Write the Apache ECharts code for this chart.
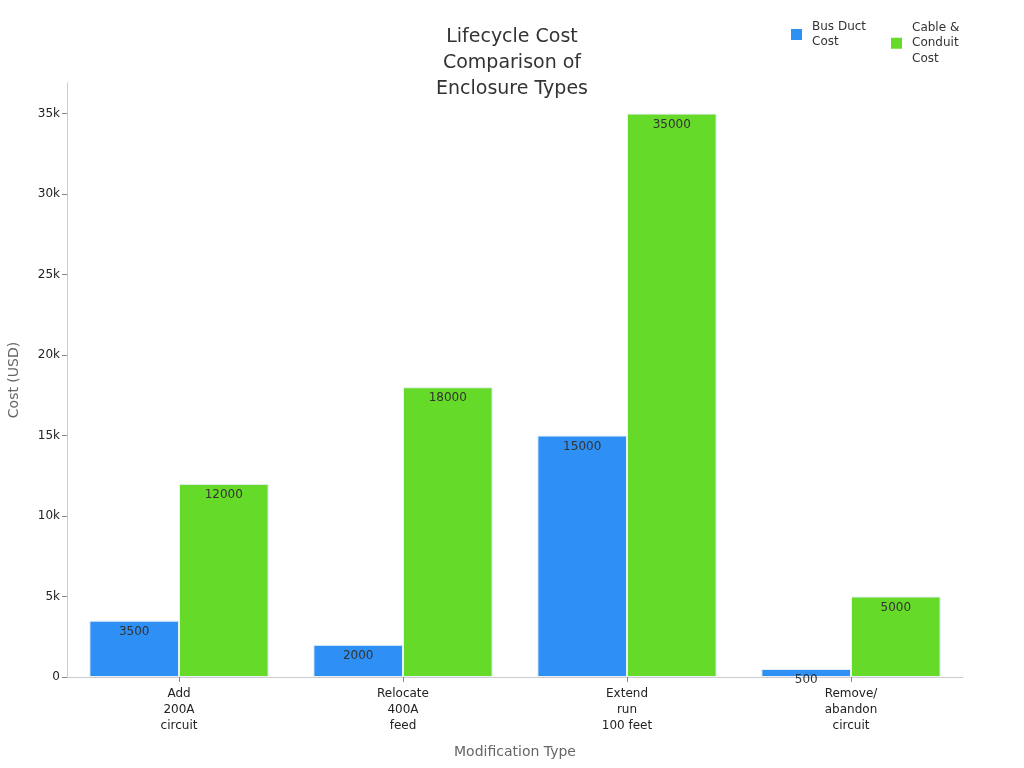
<!DOCTYPE html>
<html>
<head>
<meta charset="utf-8">
<script src="https://cdn.jsdelivr.net/npm/echarts@6/dist/echarts.min.js"></script>
<style>
html,body{margin:0;padding:0;background:#fff;}
#chart{width:1024px;height:768px;}
</style>
</head>
<body>
<div id="chart"></div>
<script>
var categories = ['Add\n200A\ncircuit', 'Relocate\n400A\nfeed', 'Extend\nrun\n100 feet', 'Remove/\nabandon\ncircuit'];
var seriesNames = ['Bus Duct\nCost', 'Cable &\nConduit\nCost'];
var busDuct = [3500, 2000, 15000, 500];
var cableConduit = [12000, 18000, 35000, 5000];
var yTicks = [0, 5000, 10000, 15000, 20000, 25000, 30000, 35000];

var chart = echarts.init(document.getElementById('chart'));

var barLabel = {
	show: true,
	position: 'insideTop',
	distance: 5,
	color: '#333',
	fontSize: 12,
	fontFamily: 'DejaVu Sans'
};

// 两个图例分开放, 各自顶端对齐
function makeLegend(name, left, top){
	return {
		top: top,
		left: left,
		itemWidth: 11,
		itemHeight: 11,
		icon: 'rect',
		itemStyle: { borderWidth: 0 },
		textStyle: { fontSize: 12, color: '#333', lineHeight: 15.5, padding: [0, 0, 0, 5], fontFamily: 'DejaVu Sans' },
		data: [name]
	};
}

var option = {
	backgroundColor: '#fff',
	textStyle: { fontFamily: 'DejaVu Sans' },
	title: {
		text: 'Lifecycle Cost\nComparison of\nEnclosure Types',
		left: 'center',
		top: 19,
		textStyle: { fontSize: 19, fontWeight: 'normal', color: '#333', lineHeight: 26, fontFamily: 'DejaVu Sans' }
	},
	legend: [makeLegend(seriesNames[0], 786, 14), makeLegend(seriesNames[1], 886, 15)],
	grid: { left: 67, right: 61, top: 83, bottom: 91, outerBoundsMode: 'none', containLabel: false },
	xAxis: {
		type: 'category',
		data: categories,
		name: 'Modification Type',
		nameLocation: 'middle',
		nameGap: 68,
		nameTextStyle: { fontSize: 14, color: '#666' },
		axisLine: { lineStyle: { color: '#ccc' } },
		axisTick: { show: true, alignWithLabel: true, length: 5, lineStyle: { color: '#888' } },
		axisLabel: { fontSize: 12, color: '#222', lineHeight: 16, margin: 9 }
	},
	yAxis: {
		type: 'value',
		min: 0,
		max: 36900,
		name: 'Cost (USD)',
		nameLocation: 'middle',
		nameGap: 46,
		nameTextStyle: { fontSize: 14, color: '#666' },
		splitLine: { show: false },
		axisLine: { show: true, lineStyle: { color: '#ccc' } },
		axisTick: { show: true, length: 5, customValues: yTicks, lineStyle: { color: '#888' } },
		axisLabel: {
			fontSize: 12, color: '#222', margin: 7,
			customValues: yTicks,
			formatter: function(v){ return v === 0 ? '0' : (v / 1000) + 'k'; }
		}
	},
	series: [
		{
			name: seriesNames[0],
			type: 'bar',
			data: busDuct,
			barGap: '0%',
			barCategoryGap: '20%',
			itemStyle: { color: '#2E90F5', borderColor: '#e8f0f8', borderWidth: 1 },
			label: barLabel
		},
		{
			name: seriesNames[1],
			type: 'bar',
			data: cableConduit,
			itemStyle: { color: '#66DA28', borderColor: '#e8f0f8', borderWidth: 1 },
			label: barLabel
		}
	]
};
chart.setOption(option);
</script>
</body>
</html>
